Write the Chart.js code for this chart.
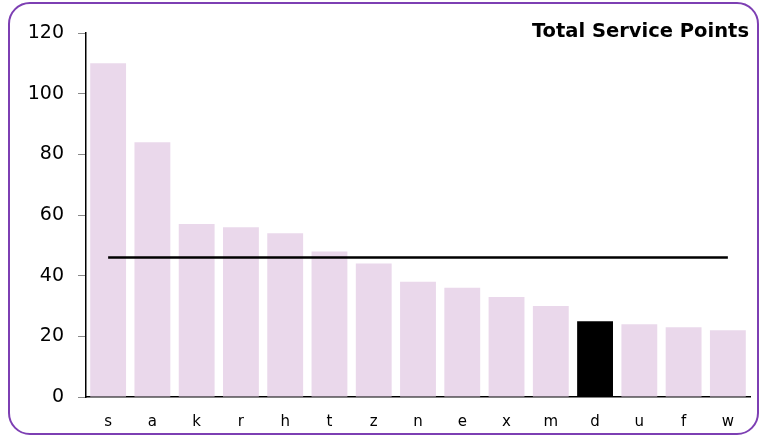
<!DOCTYPE html>
<html>
<head>
<meta charset="utf-8">
<script src="https://cdn.jsdelivr.net/npm/chart.js@4/dist/chart.umd.min.js"></script>
<style>
    html, body { margin: 0; padding: 0; background: #fff; }
    #wrap { position: relative; width: 760px; height: 436px; overflow: hidden; }
    #frame {
        position: absolute; left: 8px; top: 2px; width: 747px; height: 429px;
        border: 2px solid #7d3fb3; border-radius: 22px;
    }
    #chartTitle {
        position: absolute; right: 11px; top: 21px;
        font: bold 19.5px "DejaVu Sans", Verdana, sans-serif; line-height: 19px; color: #000;
    }
    canvas { position: absolute; left: 0; top: 0; }
</style>
</head>
<body>
<div id="wrap">
    <div id="frame"></div>
    <canvas id="pointsChart" width="760" height="436"></canvas>
    <div id="chartTitle">Total Service Points</div>
</div>
<script>
// Data
const categories = ['s', 'a', 'k', 'r', 'h', 't', 'z', 'n', 'e', 'x', 'm', 'd', 'u', 'f', 'w'];
const servicePoints = [110, 84, 57, 56, 54, 48, 44, 38, 36, 33, 30, 25, 24, 23, 22];
const averageLine = [46, 46, 46, 46, 46, 46, 46, 46, 46, 46, 46, 46, 46, 46, 46];
const yTicks = [0, 20, 40, 60, 80, 100, 120];
const highlighted = 'd';

const barColor = '#ead8eb';
const highlightColor = '#000000';

// Chart
const ctx = document.getElementById('pointsChart').getContext('2d');
new Chart(ctx, {
    data: {
        labels: categories,
        datasets: [{
            type: 'line',
            data: averageLine,
            borderColor: '#000',
            borderWidth: 2.5,
            pointRadius: 0,
            fill: false,
            order: 0
        }, {
            type: 'bar',
            data: servicePoints,
            backgroundColor: categories.map(c => c === highlighted ? highlightColor : barColor),
            borderWidth: 0,
            categoryPercentage: 1,
            barPercentage: 0.81,
            order: 1
        }]
    },
    options: {
        responsive: false,
        animation: false,
        layout: { padding: { top: 33, right: 10, left: 0, bottom: 0 } },
        plugins: {
            legend: { display: false },
            tooltip: { enabled: false }
        },
        scales: {
            x: {
                grid: { display: false },
                border: { display: true, color: '#000', width: 1.5 },
                ticks: {
                    padding: 8,
                    color: '#000',
                    font: { family: 'DejaVu Sans', size: 15 }
                },
                afterFit: scale => { scale.height = 39; }
            },
            y: {
                min: yTicks[0],
                max: yTicks[yTicks.length - 1],
                afterBuildTicks: scale => { scale.ticks = yTicks.map(v => ({ value: v })); },
                grid: {
                    drawOnChartArea: false,
                    drawTicks: true,
                    tickLength: 8,
                    color: '#888'
                },
                border: { display: true, color: '#000', width: 1.5 },
                ticks: {
                    padding: 14,
                    color: '#000',
                    font: { family: 'DejaVu Sans', size: 19 }
                },
                afterFit: scale => { scale.width = 86; }
            }
        }
    }
});
</script>
</body>
</html>
